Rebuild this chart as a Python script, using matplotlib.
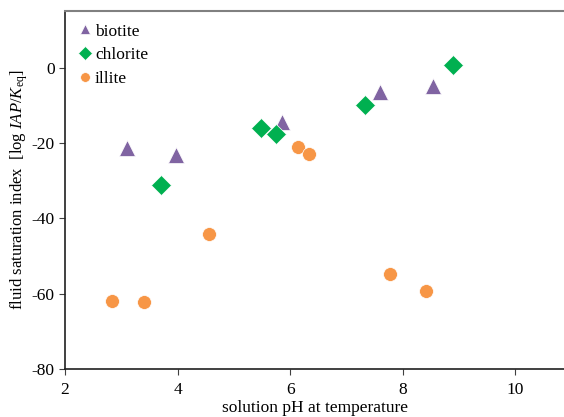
import matplotlib
matplotlib.use("Agg")
import matplotlib.pyplot as plt

plt.rcParams['font.family'] = ['Liberation Serif', 'DejaVu Serif']
plt.rcParams['mathtext.fontset'] = 'custom'
plt.rcParams['mathtext.rm'] = 'Liberation Serif'
plt.rcParams['mathtext.it'] = 'Liberation Serif:italic'
plt.rcParams['axes.unicode_minus'] = False

# data
biotite_ph = [3.10, 3.97, 5.85, 7.59, 8.54]
biotite_si = [-21.3, -23.2, -14.4, -6.4, -4.9]

chlorite_ph = [3.71, 5.48, 5.75, 7.33, 8.90]
chlorite_si = [-31.1, -16.0, -17.6, -9.9, 0.6]

illite_ph = [2.83, 3.40, 4.56, 6.13, 6.33, 7.78, 8.41]
illite_si = [-61.9, -62.3, -44.1, -21.0, -23.0, -54.8, -59.2]

x_ticks = [2, 4, 6, 8, 10]
y_ticks = [-80, -60, -40, -20, 0]

fig = plt.figure(figsize=(5.64, 4.17), dpi=100)
ax = fig.add_axes([65 / 564, 48 / 417, 1 - 65 / 564, (369 - 11) / 417])

ax.plot(biotite_ph, biotite_si, '^', color='#8064A2', markersize=11,
        markeredgecolor='white', markeredgewidth=0.5, label='biotite')
ax.plot(chlorite_ph, chlorite_si, 'D', color='#00B050', markersize=10,
        markeredgecolor='white', markeredgewidth=0.5, label='chlorite')
ax.plot(illite_ph, illite_si, 'o', color='#F79646', markersize=10,
        markeredgecolor='white', markeredgewidth=0.5, label='illite')

ax.set_xlim(2, 2 + (564 - 65) / 56.3)
ax.set_ylim(-80, 15)
ax.set_xticks(x_ticks)
ax.set_yticks(y_ticks)
ax.tick_params(labelsize=12.5, direction='out', length=4, color='#404040')
ax.tick_params(axis='x', pad=5)

for side in ['left', 'bottom']:
    ax.spines[side].set_color('#202020')
    ax.spines[side].set_linewidth(1.2)
ax.spines['top'].set_color('#808080')
ax.spines['top'].set_linewidth(1.5)
ax.spines['right'].set_visible(False)

ax.set_xlabel('solution pH at temperature', fontsize=12.5, labelpad=2)
ax.set_ylabel(r'fluid saturation index  [log $\mathit{IAP}/\mathit{K}_{\mathrm{eq}}$]',
              fontsize=12, labelpad=1)

ax.legend(loc='upper left', frameon=False, fontsize=12.5, markerscale=0.7,
          handlelength=0.6, handletextpad=0.25, labelspacing=0.45,
          borderaxespad=0.25, bbox_to_anchor=(0.008, 0.997))

fig.savefig('out.png', dpi=100)
